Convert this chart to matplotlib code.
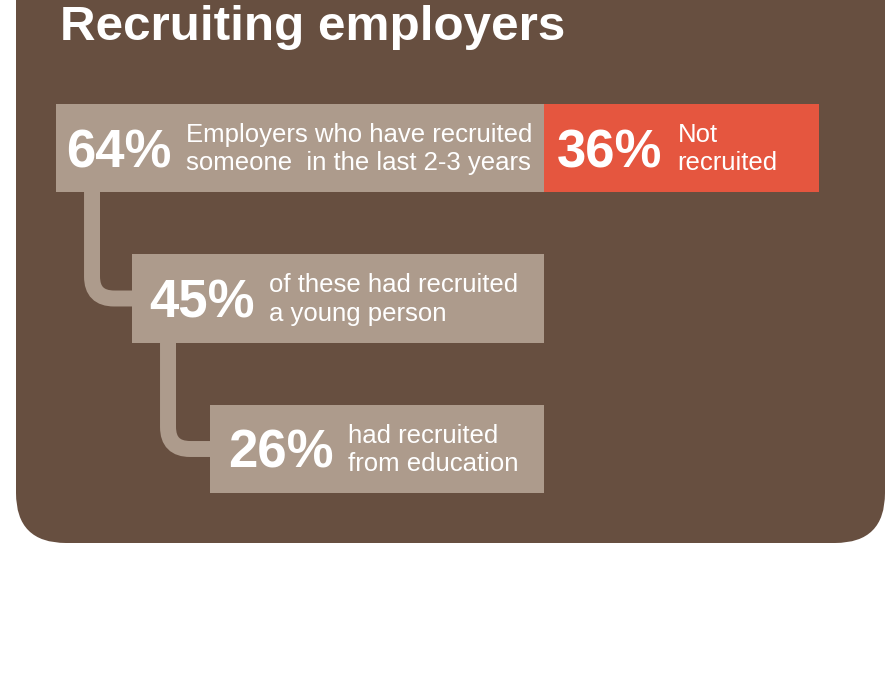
import matplotlib
matplotlib.use("Agg")
import matplotlib.pyplot as plt
from matplotlib.patches import FancyBboxPatch, PathPatch
from matplotlib.path import Path

# survey shares (percent of employers)
title = "Recruiting employers"
recruited = [64, 45, 26]
not_recruited = 36
desc_lines = [
    ["Employers who have recruited", "someone  in the last 2-3 years"],
    ["of these had recruited", "a young person"],
    ["had recruited", "from education"],
]
not_lines = ["Not", "recruited"]

BROWN = "#674F40"
TAN = "#AD9B8C"
RED = "#E5563F"
FONT = "Liberation Sans"

W, H = 888, 674
fig = plt.figure(figsize=(W / 100, H / 100), dpi=100)

# background card in pixel coordinates
bg = fig.add_axes([0, 0, 1, 1])
bg.set_xlim(0, W)
bg.set_ylim(H, 0)
bg.axis("off")
bg.add_patch(FancyBboxPatch((16, -100), 869, 643,
                            boxstyle="round,pad=0,rounding_size=50",
                            fc=BROWN, ec="none"))
bg.text(60, 40, title, color="white", fontsize=35.6, fontweight="bold",
        family=FONT, va="baseline")

# bar area: x in percent, one row per level
ax = fig.add_axes([56 / W, 1 - 524.25 / H, 763 / W, 451.5 / H])
ax.set_xlim(0, 100)
ax.set_ylim(2.5, -0.5)
ax.axis("off")
ax.patch.set_alpha(0)

indent = [0, 9.96, 20.18]
bar_h = 0.59
rows = list(range(len(recruited)))
ends = recruited[0]

ax.barh(rows, [ends - indent[i] for i in rows], left=indent,
        height=bar_h, color=TAN, zorder=2)
ax.barh(0, not_recruited, left=recruited[0], height=bar_h, color=RED, zorder=2)

# elbow connectors between levels
rx, ry = 2.9, 0.146
for i in rows[1:]:
    cx = indent[i - 1] + 4.72
    verts = [(cx, i - 1), (cx, i - ry), (cx, i), (cx + rx, i), (indent[i] + 1, i)]
    codes = [Path.MOVETO, Path.LINETO, Path.CURVE3, Path.CURVE3, Path.LINETO]
    ax.add_patch(PathPatch(Path(verts, codes), fc="none", ec=TAN, lw=11.5,
                           capstyle="butt", zorder=1))

renderer = fig.canvas.get_renderer()


def label(x, y, value, lines, pad):
    num = ax.annotate(f"{value}%", xy=(x, y), xytext=(pad, -19),
                      textcoords="offset pixels", color="white",
                      fontsize=38, fontweight="bold", family=FONT,
                      va="baseline", ha="left", zorder=3)
    ext = num.get_window_extent(renderer)
    x0 = ax.transData.transform((x, y))[0]
    dx = ext.x1 - x0 + 15
    for line, dy in zip(lines, (6, -22)):
        ax.annotate(line, xy=(x, y), xytext=(dx, dy),
                    textcoords="offset pixels", color="white",
                    fontsize=18.5, family=FONT, va="baseline", ha="left",
                    zorder=3)


pads = [10, 17, 18]
for i in rows:
    label(indent[i], i, recruited[i], desc_lines[i], pads[i])
label(recruited[0], 0, not_recruited, not_lines, 13)

fig.savefig("out.png", dpi=100, facecolor="white")
